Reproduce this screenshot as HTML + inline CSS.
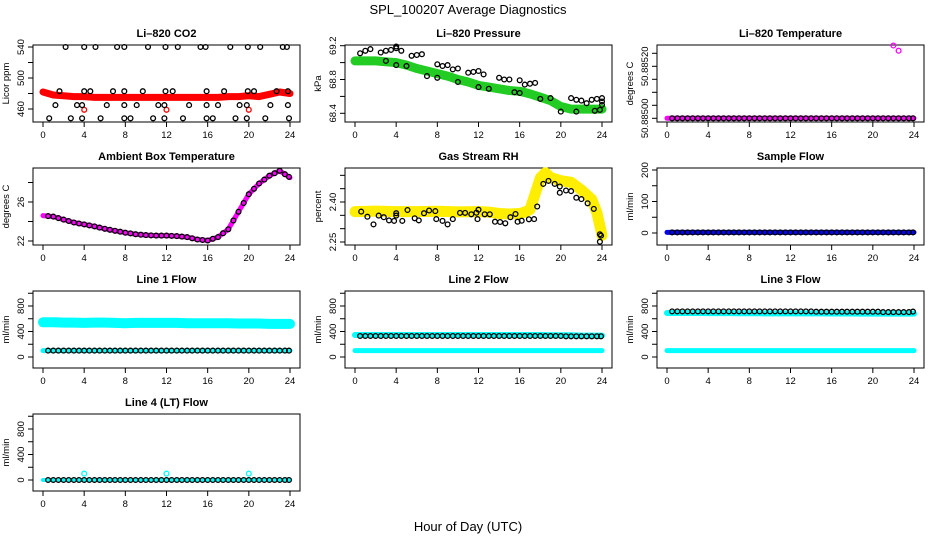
<!DOCTYPE html>
<html><head><meta charset="utf-8"><style>
body{margin:0;background:#fff;}
svg text{font-family:"Liberation Sans",sans-serif;}
</style></head><body>
<svg id="chart" width="936" height="540" viewBox="0 0 936 540" xmlns="http://www.w3.org/2000/svg">
<text x="468" y="14" font-size="13" text-anchor="middle">SPL_100207  Average Diagnostics</text>
<text x="468" y="531" font-size="13" text-anchor="middle">Hour of Day (UTC)</text>
</svg>
<script>
// ---- data ----
const xTicks = [0,4,8,12,16,20,24];
const hourly = [0,1,2,3,4,5,6,7,8,9,10,11,12,13,14,15,16,17,18,19,20,21,22,23,24];
const halfHours = [0.5,1,1.5,2,2.5,3,3.5,4,4.5,5,5.5,6,6.5,7,7.5,8,8.5,9,9.5,10,10.5,11,11.5,12,12.5,13,13.5,14,14.5,15,15.5,16,16.5,17,17.5,18,18.5,19,19.5,20,20.5,21,21.5,22,22.5,23,23.5,23.9];

// CO2
const co2Band = [482,478,477,476,476,475,475,475,475,475,475,475,475,475,475,475,475,475,476,476,477,476,479,482,480];
const co2PtsX = [2.2,4.0,5.1,7.2,7.9,10.2,11.9,13.1,15.3,15.8,18.2,19.9,21.1,23.3,23.7, 1.6,4.0,4.6,6.8,7.9,9.7,11.9,12.6,15.9,17.6,19.9,20.5,22.7,23.8, 1.2,3.3,3.8,6.2,7.9,9.1,11.2,11.8,14.2,15.9,17.0,19.1,19.8,22.1,23.8, 0.6,2.7,3.8,5.6,7.9,8.5,10.7,11.8,13.6,15.9,16.5,18.7,19.8,21.6,23.9];
const co2PtsY = [540,540,540,540,540,540,540,540,540,540,540,540,540,540,540, 483,483,483,483,483,483,483,483,483,483,483,483,483,483, 465,465,465,465,465,465,465,465,465,465,465,465,465,465,465, 448,448,448,448,448,448,448,448,448,448,448,448,448,448,448];
const co2RedX = [4,12,20];
const co2RedY = [459,459,459];

// Pressure
const presBand = [69.02,69.02,69.02,69.01,69.0,68.97,68.93,68.9,68.87,68.84,68.8,68.77,68.73,68.71,68.69,68.67,68.66,68.63,68.59,68.55,68.48,68.45,68.45,68.45,68.45];
const presPtsX = [0.5,1,1.5,2.5,3,3.5,4,4,4.5,5.5,6,6.5,3,4,5,8,8.5,9,9.5,10,11,11.5,12,12.5,14,14.5,15,16,16.5,17,17.5,15.5,16,19,21,21.5,22,22.5,23,23.5,24,24,7,8,10,12,13,18,20,21.5,23.3,23.8,24];
const presPtsY = [69.11,69.14,69.16,69.12,69.14,69.15,69.17,69.19,69.14,69.08,69.09,69.10,69.02,68.97,68.96,68.98,68.96,68.97,68.92,68.93,68.88,68.89,68.90,68.86,68.82,68.80,68.80,68.79,68.74,68.75,68.76,68.65,68.64,68.58,68.58,68.56,68.55,68.52,68.56,68.57,68.58,68.5,68.84,68.82,68.77,68.71,68.69,68.57,68.42,68.42,68.43,68.44,68.54];

// Li-820 Temperature
const tempBand = [50.885,50.885,50.885,50.885,50.885,50.885,50.885,50.885,50.885,50.885,50.885,50.885,50.885,50.885,50.885,50.885,50.885,50.885,50.885,50.885,50.885,50.885,50.885,50.885,50.885];
const tempOutX = [22.0,22.5];
const tempOutY = [50.88528,50.88526];

// Ambient box temperature
const ambBand = [24.6,24.5,24.2,23.9,23.7,23.5,23.25,23.05,22.85,22.7,22.6,22.55,22.55,22.5,22.4,22.15,22.05,22.4,23.2,25.0,26.8,27.9,28.7,29.2,28.5];

// Gas stream RH
const rhBandX = [0,2,4,6,8,10,12,13,14,15,16,16.5,17,17.5,18,18.5,19,20,21,22,23,23.5,24];
const rhBand = [2.364,2.366,2.364,2.364,2.365,2.363,2.364,2.362,2.357,2.355,2.357,2.362,2.372,2.43,2.49,2.51,2.492,2.48,2.474,2.445,2.41,2.36,2.275];
const rhPtsX = [0.6,1.2,1.8,2.3,2.8,3.3,3.8,4,4.0,4.6,5.1,5.8,6.2,6.7,7.2,7.8,7.9,8.5,9.0,9.5,10.2,10.7,11.3,11.8,11.9,12.0,12.6,13.1,13.6,14.1,14.6,15.1,15.6,15.8,16.2,16.9,17.4,17.7,18.3,18.8,19.4,19.9,19.9,20.5,21.0,21.5,22.0,22.6,23.2,23.8,23.8,23.9];
const rhPtsY = [2.364,2.345,2.316,2.349,2.343,2.331,2.329,2.349,2.358,2.329,2.370,2.339,2.331,2.358,2.368,2.366,2.336,2.329,2.316,2.336,2.359,2.359,2.354,2.360,2.336,2.371,2.354,2.354,2.326,2.325,2.320,2.343,2.355,2.326,2.330,2.335,2.336,2.383,2.468,2.479,2.468,2.458,2.435,2.443,2.441,2.416,2.411,2.395,2.374,2.279,2.251,2.274];

// Flows
const sampleBand = [2,2,2,2,2,2,2,2,2,2,2,2,2,2,2,2,2,2,2,2,2,2,2,2,2];
const samplePts = [2,2,2,2,2,2,2,2,2,2,2,2,2,2,2,2,2,2,2,2,2,2,2,2,2,2,2,2,2,2,2,2,2,2,2,2,2,2,2,2,2,2,2,2,2,2,2,2];
const line1Upper = [545,545,540,540,535,540,540,535,530,535,535,535,535,535,530,530,530,530,530,525,525,525,520,520,520];
const line1Lower = [100,100,100,100,100,100,100,100,100,100,100,100,100,100,100,100,100,100,100,100,100,100,100,100,100];
const line1Pts = [100,100,100,100,100,100,100,100,100,100,100,100,100,100,100,100,100,100,100,100,100,100,100,100,100,100,100,100,100,100,100,100,100,100,100,100,100,100,100,100,100,100,100,100,100,100,100,100];
const line2Upper = [345,345,345,345,345,345,345,345,345,345,345,345,345,345,345,345,345,345,345,340,340,340,335,335,335];
const line2Lower = [100,100,100,100,100,100,100,100,100,100,100,100,100,100,100,100,100,100,100,100,100,100,100,100,100];
const line2Pts = [330,330,330,330,330,330,330,330,330,330,330,330,330,330,330,330,330,330,330,330,330,330,330,330,330,330,330,330,330,330,330,330,330,330,330,330,330,330,330,330,325,325,325,325,325,325,325,325];
const line3Upper = [690,690,690,690,688,688,688,686,686,686,684,684,684,684,684,684,682,682,682,680,680,680,680,680,680];
const line3Lower = [100,100,100,100,100,100,100,100,100,100,100,100,100,100,100,100,100,100,100,100,100,100,100,100,100];
const line3Pts = [715,715,715,715,715,715,715,715,715,715,715,715,715,715,715,715,715,715,715,715,715,715,715,715,715,715,715,715,710,710,710,710,710,710,710,710,710,710,710,710,710,705,705,705,705,705,705,712];
const line4Band = [0,0,0,0,0,0,0,0,0,0,0,0,0,0,0,0,0,0,0,0,0,0,0,0,0];
const line4Pts = [0,0,0,0,0,0,0,0,0,0,0,0,0,0,0,0,0,0,0,0,0,0,0,0,0,0,0,0,0,0,0,0,0,0,0,0,0,0,0,0,0,0,0,0,0,0,0,0];
const line4OutX = [4,12,20];
const line4OutY = [100,100,100];

// ---- layout ----
const NS = 'http://www.w3.org/2000/svg';
const svg = document.getElementById('chart');
const colX = [33,345,657], rowY = [45,168,291,414], BW = 267, BH = 77;
function mk(tag, attrs, parent){ const e=document.createElementNS(NS,tag); for(const k in attrs) e.setAttribute(k,attrs[k]); (parent||svg).appendChild(e); return e; }

function panel(name, col, row, title, ytitle, ya, yticks, ylabels){
  const g = mk('g',{});
  
  
  const bx = colX[col], by = rowY[row];
  const xs = h => bx + 10 + h*247/24;
  const ys = v => by + ya[1] + (v-ya[0])*(ya[3]-ya[1])/(ya[2]-ya[0]);
  const box = mk('rect',{x:bx,y:by,width:BW,height:BH,fill:'none',stroke:'#000','stroke-width':1},g);
  
  
  const t = mk('text',{x:bx+BW/2,y:by-8,'font-size':11,'font-weight':'bold','text-anchor':'middle'},g);
  t.textContent = title;
  
  
  // x axis
  mk('line',{x1:xs(0),x2:xs(24),y1:by+BH,y2:by+BH,stroke:'#000'},g);
  xTicks.forEach(h=>{
    mk('line',{x1:xs(h),x2:xs(h),y1:by+BH,y2:by+BH+5,stroke:'#000'},g);
    const tl = mk('text',{x:xs(h),y:by+BH+16,'font-size':9.5,'text-anchor':'middle'},g);
    tl.textContent = h;
    
    
  });
  // y axis
  mk('line',{x1:bx,x2:bx,y1:ys(yticks[0]),y2:ys(yticks[yticks.length-1]),stroke:'#000'},g);
  yticks.forEach(v=>{ mk('line',{x1:bx-5,x2:bx,y1:ys(v),y2:ys(v),stroke:'#000'},g); });
  ylabels.forEach(l=>{
    const yy = ys(l.v);
    const tl = mk('text',{x:bx-9,y:yy,'font-size':9.5,'text-anchor':'middle',transform:`rotate(-90 ${bx-9} ${yy})`},g);
    tl.textContent = l.t;
    
    
  });
  const yt = mk('text',{x:bx-24,y:by+BH/2,'font-size':9.5,'text-anchor':'middle',transform:`rotate(-90 ${bx-24} ${by+BH/2})`},g);
  yt.textContent = ytitle;
  
  
  return {g, xs, ys};
}
function band(p, xsArr, vals, color, w){
  const d = xsArr.map((h,i)=>(i?'L':'M')+p.xs(h).toFixed(1)+' '+p.ys(vals[i]).toFixed(1)).join(' ');
  const e = mk('path',{d, fill:'none', stroke:color, 'stroke-width':w, 'stroke-linejoin':'round','stroke-linecap':'round'},p.g);
  
  
}
function pts(p, xsArr, vals, color){
  xsArr.forEach((h,i)=>{
    const c = mk('circle',{cx:p.xs(h).toFixed(1), cy:p.ys(vals[i]).toFixed(1), r:2.4, fill:'none', stroke:color,'stroke-width':1.3},p.g);
    
    
  });
}
const flowTicks=[0,200,400,600,800,1000], flowLabels=[{v:0,t:'0'},{v:400,t:'400'},{v:800,t:'800'}];

let p;
p = panel('co2-panel',0,0,'Li\u2013820 CO2','Licor ppm',[540,2,460,64],[460,480,500,520,540],[{v:460,t:'460'},{v:500,t:'500'},{v:540,t:'540'}]);
band(p,hourly,co2Band,'#f00',7); pts(p,co2RedX,co2RedY,'#f00'); pts(p,co2PtsX,co2PtsY,'#000');

p = panel('pressure-panel',1,0,'Li\u2013820 Pressure','kPa',[69.2,0.7,68.4,68.3],[68.4,68.6,68.8,69.0,69.2],[{v:68.4,t:'68.4'},{v:68.8,t:'68.8'},{v:69.2,t:'69.2'}]);
band(p,hourly,presBand,'#22cc22',9); pts(p,presPtsX,presPtsY,'#000');

p = panel('licor-temp-panel',2,0,'Li\u2013820 Temperature','degrees C',[50.885,73.3,50.8852,21.3],[50.885,50.88505,50.8851,50.88515,50.8852,50.88525],[{v:50.885,t:'50.88500'},{v:50.8852,t:'50.88520'}]);
band(p,hourly,tempBand,'#f0f',5); pts(p,halfHours,samplePts.map(()=>50.885),'#000'); pts(p,tempOutX,tempOutY,'#f0f');

p = panel('ambient-temp-panel',0,1,'Ambient Box Temperature','degrees C',[22,73,26,34],[22,24,26,28],[{v:22,t:'22'},{v:26,t:'26'}]);
band(p,hourly,ambBand,'#f0f',5);
pts(p,halfHours,halfHours.map(h=>{const i=Math.floor(h),f=h-i;return i>=24?ambBand[24]:ambBand[i]*(1-f)+ambBand[i+1]*f;}),'#000');

p = panel('rh-panel',1,1,'Gas Stream RH','percent',[2.25,74,2.40,34],[2.25,2.30,2.35,2.40,2.45,2.50],[{v:2.25,t:'2.25'},{v:2.40,t:'2.40'}]);
band(p,rhBandX,rhBand,'#ffee00',11); pts(p,rhPtsX,rhPtsY,'#000');

p = panel('sample-flow-panel',2,1,'Sample Flow','ml/min',[0,65,200,2],[0,50,100,150,200],[{v:0,t:'0'},{v:100,t:'100'},{v:200,t:'200'}]);
band(p,hourly,sampleBand,'#00f',5); pts(p,halfHours,samplePts,'#000');

p = panel('line1-flow-panel',0,2,'Line 1 Flow','ml/min',[0,66,800,15],flowTicks,flowLabels);
band(p,hourly,line1Upper,'#00ffff',10); band(p,hourly,line1Lower,'#00ffff',5); pts(p,halfHours,line1Pts,'#000');

p = panel('line2-flow-panel',1,2,'Line 2 Flow','ml/min',[0,66,800,15],flowTicks,flowLabels);
band(p,hourly,line2Upper,'#00ffff',6); band(p,hourly,line2Lower,'#00ffff',5); pts(p,halfHours,line2Pts,'#000');

p = panel('line3-flow-panel',2,2,'Line 3 Flow','ml/min',[0,66,800,15],flowTicks,flowLabels);
band(p,hourly,line3Upper,'#00ffff',6); band(p,hourly,line3Lower,'#00ffff',5); pts(p,halfHours,line3Pts,'#000');

p = panel('line4-flow-panel',0,3,'Line 4 (LT) Flow','ml/min',[0,66,800,15],flowTicks,flowLabels);
band(p,hourly,line4Band,'#00ffff',4); pts(p,halfHours,line4Pts,'#000'); pts(p,line4OutX,line4OutY,'#00ffff');
</script>
</body></html>
